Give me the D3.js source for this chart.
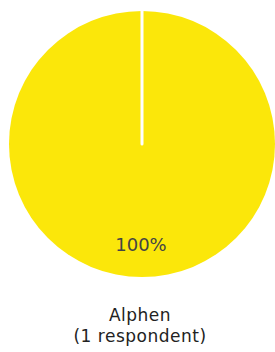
<!DOCTYPE html>
<meta charset="utf-8">
<style>
  body { margin: 0; background: #fff; }
  text { font-family: "DejaVu Sans", "Noto Sans", sans-serif; }
</style>
<svg width="275" height="352"></svg>
<script src="https://cdn.jsdelivr.net/npm/d3@7"></script>
<script>
    var categories = ["Alphen"];
    var values = [1];
    var respondents = [1];
    var colors = ["#fbe70a"];

    var svg = d3.select("svg"),
        width = +svg.attr("width"),
        height = +svg.attr("height"),
        radius = 133,
        g = svg.append("g").attr("transform", "translate(142,144)");

    var pie = d3.pie().sort(null);
    var arc = d3.arc().innerRadius(0).outerRadius(radius);
    var labelArc = d3.arc().innerRadius(radius * 0.76).outerRadius(radius * 0.76);
    var total = d3.sum(values);

    var slices = g.selectAll(".slice")
        .data(pie(values))
        .enter().append("g")
        .attr("class", "slice");

    slices.append("path")
        .attr("d", arc)
        .style("fill", function(d, i) { return colors[i]; });

    // slice borders (white), drawn from the center to each start angle
    slices.append("line")
        .attr("x1", 0).attr("y1", 0)
        .attr("x2", function(d) { return d3.pointRadial(d.startAngle, radius + 2)[0]; })
        .attr("y2", function(d) { return d3.pointRadial(d.startAngle, radius + 2)[1]; })
        .style("stroke", "#fff")
        .style("stroke-width", 3)
        .style("stroke-linecap", "round");

    slices.append("text")
        .attr("transform", function(d) {
            // single slice: put the label below the center
            var p = values.length === 1 ? [-1, radius * 0.76] : labelArc.centroid(d);
            return "translate(" + p + ")";
        })
        .attr("text-anchor", "middle")
        .attr("dy", "0.35em")
        .style("font-size", "18px")
        .style("fill", "#444")
        .text(function(d) { return Math.round(d.value / total * 100) + "%"; });

    svg.append("text")
        .attr("x", 140).attr("y", 321)
        .attr("text-anchor", "middle")
        .style("font-size", "17px")
        .style("letter-spacing", "0.5px")
        .style("fill", "#222")
        .text(categories[0]);

    svg.append("text")
        .attr("x", 140).attr("y", 342)
        .attr("text-anchor", "middle")
        .style("font-size", "17px")
        .style("letter-spacing", "0.5px")
        .style("fill", "#222")
        .text("(" + respondents[0] + " respondent" + (respondents[0] === 1 ? "" : "s") + ")");
</script>
